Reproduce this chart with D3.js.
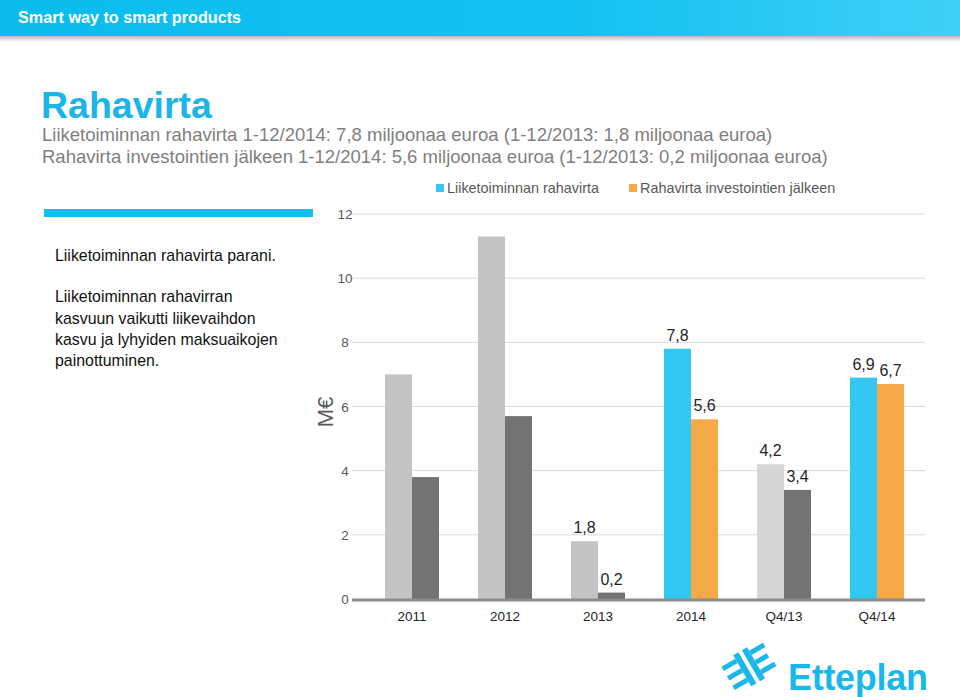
<!DOCTYPE html>
<html><head><meta charset="utf-8">
<script src="https://cdn.jsdelivr.net/npm/d3@7"></script>
<style>body{margin:0;background:#fff;}svg{display:block;font-family:Arial,"Liberation Sans",sans-serif;}</style>
</head><body><svg id="c" width="960" height="697"></svg>
<script>
const categories = ["2011","2012","2013","2014","Q4/13","Q4/14"];
const seriesNames = ["Liiketoiminnan rahavirta","Rahavirta investointien jälkeen"];
const operatingCF = [7.0, 11.3, 1.8, 7.8, 4.2, 6.9];
const afterInvestCF = [3.8, 5.7, 0.2, 5.6, 3.4, 6.7];
const showLabels = [false, false, true, true, true, true];
const yTicks = [0, 2, 4, 6, 8, 10, 12];
const opColors = ["#c4c4c4","#c4c4c4","#c4c4c4","#33c8f2","#d6d6d6","#33c8f2"];
const invColors = ["#737373","#737373","#737373","#f5a947","#737373","#f5a947"];
const subtitleLines = ["Liiketoiminnan rahavirta 1-12/2014: 7,8 miljoonaa euroa (1-12/2013: 1,8 miljoonaa euroa)",
  "Rahavirta investointien jälkeen 1-12/2014: 5,6 miljoonaa euroa (1-12/2013: 0,2 miljoonaa euroa)"];
const sideText = ["Liiketoiminnan rahavirta parani.", "", "Liiketoiminnan rahavirran", "kasvuun vaikutti liikevaihdon", "kasvu ja lyhyiden maksuaikojen", "painottuminen."];

const svg = d3.select("#c");
const defs = svg.append("defs");
const g1 = defs.append("linearGradient").attr("id","hdr").attr("x1","0").attr("x2","1");
g1.append("stop").attr("offset","0").attr("stop-color","#0bbcee");
g1.append("stop").attr("offset","0.6").attr("stop-color","#13c2f0");
g1.append("stop").attr("offset","1").attr("stop-color","#3fd0f7");
const g2 = defs.append("linearGradient").attr("id","shd").attr("x1","0").attr("x2","0").attr("y1","0").attr("y2","1");
g2.append("stop").attr("offset","0").attr("stop-color","#b8b8b8");
g2.append("stop").attr("offset","1").attr("stop-color","#ffffff");

// header
svg.append("rect").attr("x",0).attr("y",36).attr("width",960).attr("height",6).attr("fill","url(#shd)");
svg.append("rect").attr("x",0).attr("y",0).attr("width",960).attr("height",36).attr("fill","url(#hdr)");
svg.append("text").attr("x",18).attr("y",23).attr("fill","#fff").attr("font-weight","bold").attr("font-size",16.2).text("Smart way to smart products");

// title
svg.append("text").attr("x",41).attr("y",118).attr("fill","#1bb5e8").attr("font-weight","bold").attr("font-size",37.5).text("Rahavirta");
subtitleLines.forEach((t,i)=>svg.append("text").attr("x",42).attr("y",141+i*22).attr("fill","#7f7f7f").attr("font-size",18.5).text(t));

// side panel
svg.append("rect").attr("x",44).attr("y",209).attr("width",269).attr("height",8).attr("fill","#13bdee");
const sideY = [261, 0, 302, 324, 345, 366];
sideText.forEach((t,i)=>{ if(t) svg.append("text").attr("x",55).attr("y",sideY[i]).attr("fill","#111").attr("font-size",15.9).text(t); });

// chart
const y = d3.scaleLinear().domain([0,12]).range([599,214]);
const x = d3.scaleBand().domain(categories).range([365.5,923.5]).padding(0);
const xs = d3.scaleBand().domain([0,1]).range([0,54]);
const off = (x.bandwidth()-54)/2;

// gridlines
svg.append("g").selectAll("line").data(yTicks.filter(d=>d>0)).join("line")
  .attr("x1",352).attr("x2",925).attr("y1",d=>y(d)).attr("y2",d=>y(d))
  .attr("stroke","#d9d9d9").attr("stroke-width",1);
// y tick labels
svg.append("g").selectAll("text").data(yTicks).join("text")
  .attr("x",345).attr("y",d=>y(d)+5).attr("text-anchor","middle")
  .attr("fill","#595959").attr("font-size",13.5).text(d=>d);

// bars
const data = categories.map((c,i)=>({c,i,a:operatingCF[i],b:afterInvestCF[i]}));
const gb = svg.append("g");
gb.selectAll("rect.a").data(data).join("rect").attr("class","a")
  .attr("x",d=>x(d.c)+off+xs(0)).attr("width",xs.bandwidth())
  .attr("y",d=>y(d.a)).attr("height",d=>y(0)-y(d.a)).attr("fill",d=>opColors[d.i]);
gb.selectAll("rect.b").data(data).join("rect").attr("class","b")
  .attr("x",d=>x(d.c)+off+xs(1)).attr("width",xs.bandwidth())
  .attr("y",d=>y(d.b)).attr("height",d=>y(0)-y(d.b)).attr("fill",d=>invColors[d.i]);

const fmt = v=>d3.format(".1f")(v).replace(".",",");
const lab = data.filter(d=>showLabels[d.i]);
gb.selectAll("text.a").data(lab).join("text").attr("class","a")
  .attr("x",d=>x(d.c)+off+xs(0)+xs.bandwidth()/2).attr("y",d=>y(d.a)-8)
  .attr("text-anchor","middle").attr("fill","#262626").attr("font-size",16).text(d=>fmt(d.a));
gb.selectAll("text.b").data(lab).join("text").attr("class","b")
  .attr("x",d=>x(d.c)+off+xs(1)+xs.bandwidth()/2).attr("y",d=>y(d.b)-8)
  .attr("text-anchor","middle").attr("fill","#262626").attr("font-size",16).text(d=>fmt(d.b));

// baseline axis
svg.append("line").attr("x1",352).attr("x2",925).attr("y1",y(0)+1).attr("y2",y(0)+1).attr("stroke","#8c8c8c").attr("stroke-width",3);
// x labels
svg.append("g").selectAll("text").data(categories).join("text")
  .attr("x",d=>x(d)+x.bandwidth()/2).attr("y",621).attr("text-anchor","middle")
  .attr("fill","#262626").attr("font-size",13.5).text(d=>d);

// y axis title
svg.append("text").attr("transform","translate(333,412) rotate(-90)").attr("text-anchor","middle")
  .attr("fill","#595959").attr("font-size",22).text("M€");

// legend
const legColors = ["#33c8f2","#f5a947"];
const legX = [436, 629];
seriesNames.forEach((n,i)=>{
  svg.append("rect").attr("x",legX[i]).attr("y",184).attr("width",8).attr("height",8).attr("fill",legColors[i]);
  svg.append("text").attr("x",legX[i]+11).attr("y",193).attr("fill","#595959").attr("font-size",14.4).text(n);
});

// logo
const logo = svg.append("g").attr("fill","#1ab8ea");
logo.append("text").attr("x",788).attr("y",690).attr("font-weight","bold").attr("font-size",36).attr("letter-spacing",-0.3).text("Etteplan");
const lg = logo.append("g").attr("transform","translate(726,648) rotate(-30 25 20)");
lg.append("rect").attr("x",0).attr("y",4).attr("width",16).attr("height",5);
lg.append("rect").attr("x",0).attr("y",15).attr("width",16).attr("height",5);
lg.append("rect").attr("x",0).attr("y",26).attr("width",16).attr("height",5);
lg.append("rect").attr("x",16).attr("y",0).attr("width",6).attr("height",36);
lg.append("rect").attr("x",26).attr("y",0).attr("width",6).attr("height",36);
lg.append("rect").attr("x",32).attr("y",4).attr("width",16).attr("height",5);
lg.append("rect").attr("x",32).attr("y",15).attr("width",14).attr("height",5);
lg.append("rect").attr("x",32).attr("y",26).attr("width",16).attr("height",5);
</script></body></html>
